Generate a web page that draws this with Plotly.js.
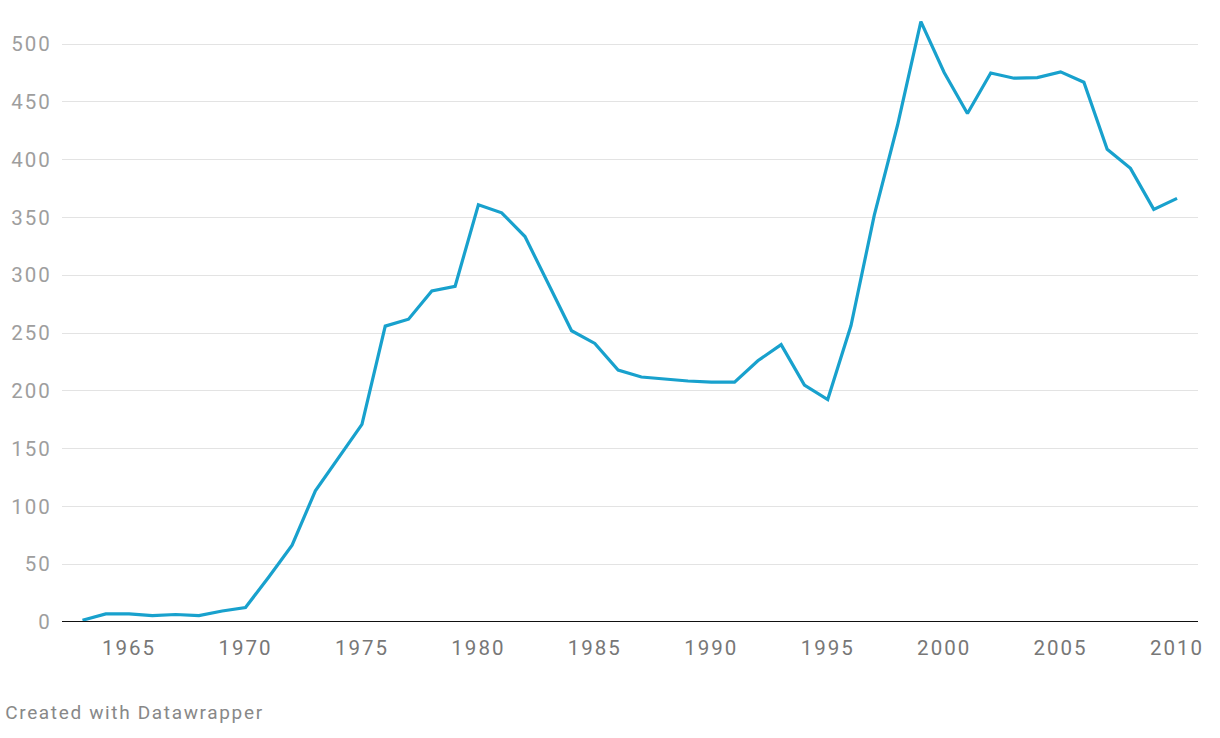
<!DOCTYPE html>
<html>
<head>
<meta charset="utf-8">
<script src="https://cdn.plot.ly/plotly-3.0.1.min.js"></script>
<style>
html,body{margin:0;padding:0;background:#fff;}
#chart{width:1220px;height:738px;}
#chart .xtick text, #chart .ytick text{letter-spacing:2px;}
#chart .annotation-text{letter-spacing:1.65px;}
</style>
</head>
<body>
<div id="chart"></div>
<script>
var years = [1963,1964,1965,1966,1967,1968,1969,1970,1971,1972,1973,1974,1975,1976,1977,1978,1979,1980,1981,1982,1983,1984,1985,1986,1987,1988,1989,1990,1991,1992,1993,1994,1995,1996,1997,1998,1999,2000,2001,2002,2003,2004,2005,2006,2007,2008,2009,2010];
var values = [1.5,7,7,5.5,6.5,5.5,9.5,12.5,39,66.5,113.5,142,171,256,262,286.5,290.5,361,354,333.5,293,252,241,218,212,210,208.5,207.5,207.5,226,240,205,192.5,256.5,352,430,519.5,475.5,440,475,470.5,471,476,467,409,392.5,357,366.5];
var yTicks = [0,50,100,150,200,250,300,350,400,450,500];
var xTicks = [1965,1970,1975,1980,1985,1990,1995,2000,2005,2010];
var footer = "Created with Datawrapper";

var trace = {
  x: years, y: values, type: 'scatter', mode: 'lines',
  line: {color: '#18a1cd', width: 3.2},
  hoverinfo: 'x+y'
};
var layout = {
  width: 1220, height: 738,
  margin: {l: 62, r: 22, t: 21, b: 116},
  paper_bgcolor: '#fff', plot_bgcolor: '#fff',
  showlegend: false,
  font: {family: 'Roboto, sans-serif'},
  xaxis: {
    range: [1962.12, 2010.9],
    tickvals: xTicks, ticktext: xTicks.map(String),
    showgrid: false, zeroline: false, showline: false,
    ticks: 'outside', ticklen: 7, tickcolor: 'rgba(0,0,0,0)',
    tickfont: {size: 20.5, color: '#777'}
  },
  yaxis: {
    range: [0, 520],
    tickvals: yTicks, ticktext: yTicks.map(String),
    showgrid: true, gridcolor: '#e3e3e3', gridwidth: 1,
    zeroline: false, showline: false,
    ticks: 'outside', ticklen: 5, tickcolor: 'rgba(0,0,0,0)',
    tickfont: {size: 20.5, color: '#9e9e9e'}
  },
  shapes: [{type: 'line', xref: 'paper', yref: 'y', x0: 0, x1: 1, y0: 0, y1: 0,
    line: {color: '#111', width: 2}}],
  annotations: [{
    text: footer, xref: 'paper', yref: 'paper', x: (23 - 62) / 1136, y: -90 / 601,
    xanchor: 'left', yanchor: 'middle', showarrow: false,
    font: {size: 19, color: '#888', family: 'Roboto, sans-serif'}
  }]
};
Plotly.newPlot('chart', [trace], layout, {displayModeBar: false, staticPlot: true});
</script>
</body>
</html>
